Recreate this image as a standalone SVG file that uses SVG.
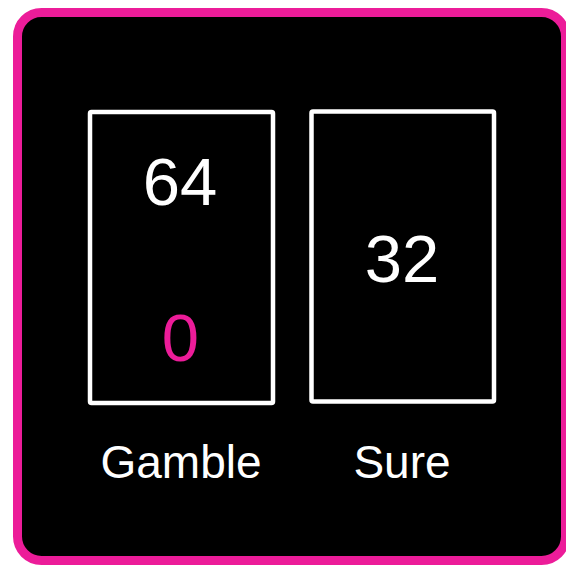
<svg xmlns="http://www.w3.org/2000/svg" width="566" height="566" viewBox="0 0 566 566">
  <style>
    .card { fill: none; stroke: #ffffff; stroke-width: 4.5; }
    .num { font-family: "Liberation Sans", Arial, sans-serif; font-size: 67px; text-anchor: middle; fill: #ffffff; }
    .lbl { font-family: "Liberation Sans", Arial, sans-serif; font-size: 46px; text-anchor: middle; fill: #ffffff; }
    .pink { fill: #ec1c99; }
  </style>
  <rect x="0" y="0" width="566" height="566" fill="#ffffff"/>
  <rect id="frame" x="17.5" y="12.5" width="548" height="548" rx="24" fill="#000000" stroke="#ec1c99" stroke-width="9"/>
  <g id="gamble">
    <rect class="card" x="90" y="112" width="183" height="291" rx="1.5"/>
    <text class="num" x="180" y="205">64</text>
    <text class="num pink" x="180.5" y="361">0</text>
    <text class="lbl" x="181" y="477.5">Gamble</text>
  </g>
  <g id="sure">
    <rect class="card" x="311.5" y="111.5" width="182.5" height="290" rx="1.5"/>
    <text class="num" x="402" y="282">32</text>
    <text class="lbl" x="402" y="477.5">Sure</text>
  </g>
  <g id="connectors"/>
</svg>
